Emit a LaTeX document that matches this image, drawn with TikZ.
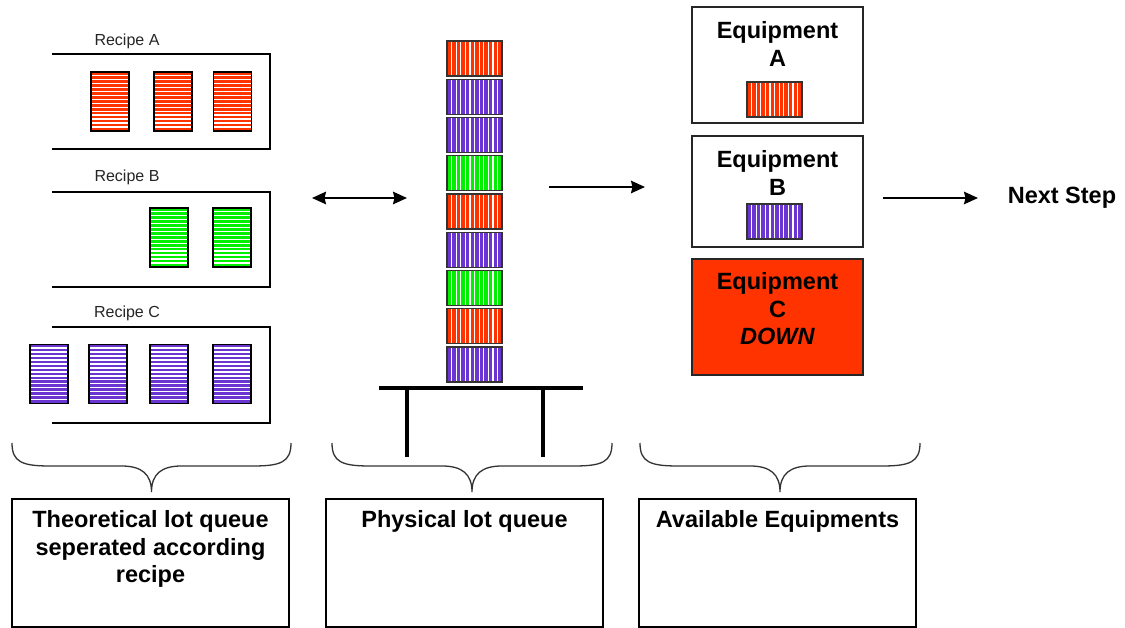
\documentclass[tikz,border=0pt]{standalone}
\usepackage{fontspec}
\setmainfont{Liberation Sans}
\usetikzlibrary{arrows.meta}
\definecolor{lotred}{HTML}{FF3300}
\definecolor{lotpurple}{HTML}{6A35D0}
\definecolor{lotgreen}{HTML}{00F000}
\definecolor{downred}{HTML}{FF3300}

\tikzset{
  flowtip/.tip={Stealth[length=14pt,width=12.5pt,inset=1.5pt]},
  % recipe-sorted lot: horizontal white stripes
  hlot/.style={draw=black, line width=1.3pt, fill=#1, minimum width=38pt, minimum height=59pt,
    inner sep=0pt, outer sep=0pt,
    path picture={\foreach \k in {1,...,14}{
      \draw[white, line width=1.4pt]
        ([yshift=\k*3.95pt]path picture bounding box.south west) --
        ([yshift=\k*3.95pt]path picture bounding box.south east);}}},
  % physical lot: vertical white stripes
  vlot/.style={draw=black!80, line width=1.3pt, fill=#1, minimum width=55pt, minimum height=35pt,
    inner sep=0pt, outer sep=0pt,
    path picture={\foreach \k in {1,...,11}{
      \draw[white, line width=1.3pt]
        ([xshift=\k*4.6pt]path picture bounding box.south west) --
        ([xshift=\k*4.6pt]path picture bounding box.north west);}}},
  recbox/.style={minimum width=218pt, minimum height=95pt, inner sep=0pt, outer sep=0pt},
  reclabel/.style={font=\fontsize{16}{19}\selectfont, text=black!85},
  eqbox/.style={draw=black!85, line width=1.5pt, minimum width=171pt, inner sep=0pt},
  bigtext/.style={font=\fontsize{23.5}{27.5}\selectfont\bfseries, align=center},
  infobox/.style={draw=black, line width=1.6pt, minimum width=277pt, minimum height=128pt, inner sep=0pt},
  conn/.style={line width=2pt, -flowtip},
  bracestyle/.style={draw=black!80, line width=1.3pt},
  tablestyle/.style={line width=4.5pt, black}
}

\begin{document}
\begin{tikzpicture}[x=1pt,y=-1pt]
\useasboundingbox[fill=white] (0,0) rectangle (1125,628);

% ---- theoretical queue, one open tray per recipe
\node[recbox] (recA) at (161,101.5) {};
\node[recbox] (recB) at (161,239.5) {};
\node[recbox, minimum height=96pt] (recC) at (161,375) {};
\foreach \r in {recA,recB,recC}{
  \draw[line width=1.4pt] (\r.north west) -- (\r.north east) -- (\r.south east) -- (\r.south west);
}
\node[reclabel] (labA) at (127,41) {Recipe A};
\node[reclabel] (labB) at (127,177) {Recipe B};
\node[reclabel] (labC) at (127,313) {Recipe C};

\node[hlot=lotred] (a1) at (110,101.5) {};
\node[hlot=lotred] (a2) at (173,101.5) {};
\node[hlot=lotred] (a3) at (232.5,101.5) {};
\node[hlot=lotgreen] (b1) at (169,237.5) {};
\node[hlot=lotgreen] (b2) at (232,237.5) {};
\node[hlot=lotpurple] (c1) at (49,374) {};
\node[hlot=lotpurple] (c2) at (108,374) {};
\node[hlot=lotpurple] (c3) at (169,374) {};
\node[hlot=lotpurple] (c4) at (232,374) {};

% ---- physical queue stacked on a table
\foreach \c [count=\i from 0] in {lotred,lotpurple,lotpurple,lotgreen,lotred,lotpurple,lotgreen,lotred,lotpurple}{
  \node[vlot=\c] (s\i) at (474.5,58.5+38.25*\i) {};
}
\draw[tablestyle] (379,388) -- (583,388);
\draw[tablestyle] (407,388) -- (407,457);
\draw[tablestyle] (543,388) -- (543,457);

% ---- equipments
\node[eqbox, minimum height=116pt] (eqA) at (777.5,65) {};
\node[bigtext] (eqAt) at (777.5,44) {Equipment\\A};
\node[vlot=lotred] (eqAlot) at (774.5,99.5) {};

\node[eqbox, minimum height=111pt] (eqB) at (777.5,191.5) {};
\node[bigtext] (eqBt) at (777.5,173) {Equipment\\B};
\node[vlot=lotpurple] (eqBlot) at (774.5,221.5) {};

\node[eqbox, minimum height=116pt, fill=downred] (eqC) at (777.5,317) {};
\node[bigtext] (eqCt) at (777.5,309) {Equipment\\C\\\textit{DOWN}};

% ---- flow arrows
\coordinate (q1) at (312,198);
\coordinate (q2) at (407,198);
\coordinate (p1) at (549,187);
\coordinate (p2) at (645,187);
\coordinate (n1) at (883,198);
\coordinate (n2) at (978,198);
\draw[line width=2pt, flowtip-flowtip] (q1) -- (q2);
\draw[conn] (p1) -- (p2);
\draw[conn] (n1) -- (n2);
\node[bigtext] (next) at (1062,198) {Next Step};

% ---- grouping braces
\foreach \l/\r in {12/291, 332/612, 640/920}{
  \pgfmathsetmacro\m{(\l+\r)/2}
  \draw[bracestyle] (\l,443) .. controls (\l,462) and (\l+10,466) .. (\l+38,466)
    -- (\m-30,466) .. controls (\m-10,466) and (\m,474) .. (\m,492)
    .. controls (\m,474) and (\m+10,466) .. (\m+30,466)
    -- (\r-38,466) .. controls (\r-10,466) and (\r,462) .. (\r,443);
}

% ---- captions
\node[infobox] (cap1) at (150.5,563) {};
\node[bigtext] (cap1t) at (150.5,549) {Theoretical lot queue\\seperated according\\recipe};
\node[infobox] (cap2) at (464.5,563) {};
\node[bigtext] (cap2t) at (464.5,521) {Physical lot queue};
\node[infobox] (cap3) at (777.5,563) {};
\node[bigtext] (cap3t) at (777.5,521) {Available Equipments};
\end{tikzpicture}
\end{document}
